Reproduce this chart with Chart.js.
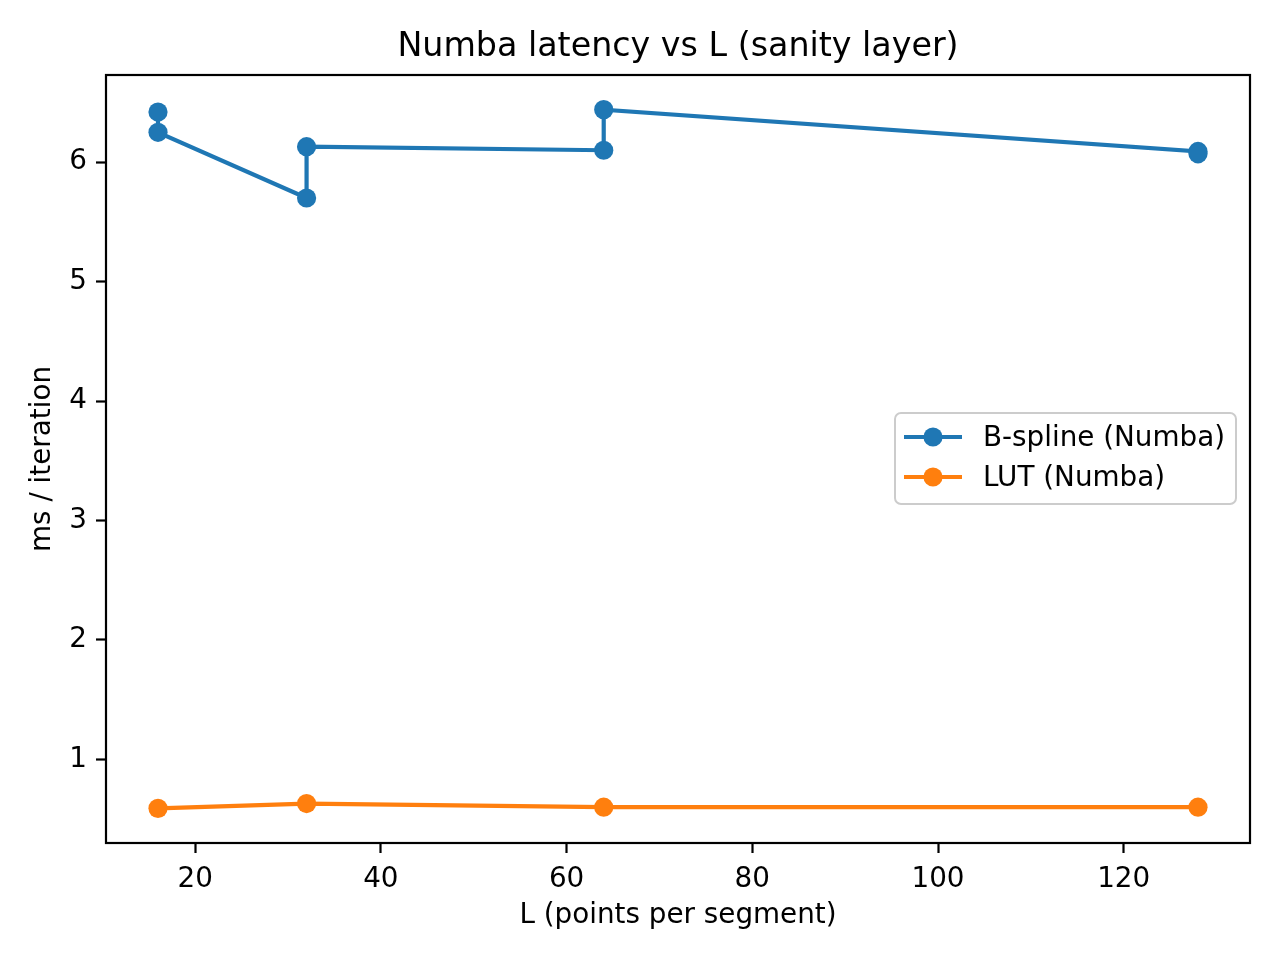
<!DOCTYPE html>
<html>
<head>
<meta charset="utf-8">
<title>Numba latency vs L</title>
<script src="https://cdn.jsdelivr.net/npm/chart.js@4.4.0/dist/chart.umd.min.js"></script>
<style>
  html, body { margin: 0; padding: 0; background: #fff; }
  canvas { display: block; }
</style>
</head>
<body>
<canvas id="chart" width="1280" height="960"></canvas>
<script>
// data
var L_BSPLINE  = [16, 16, 32, 32, 64, 64, 128, 128];
var MS_BSPLINE = [6.42, 6.25, 5.70, 6.13, 6.10, 6.44, 6.09, 6.07];
var L_LUT      = [16, 32, 64, 128];
var MS_LUT     = [0.59, 0.63, 0.60, 0.60];
var X_TICKS    = [20, 40, 60, 80, 100, 120];
var Y_TICKS    = [1, 2, 3, 4, 5, 6];

var TITLE = "Numba latency vs L (sanity layer)";
var BLUE = "#1f77b4", ORANGE = "#ff7f0e";
var FONT = 27.8;
var MARKER = 9.6;

Chart.defaults.font.family = "'DejaVu Sans', sans-serif";
Chart.defaults.color = "#000";

function points(xs, ys) {
  return xs.map(function(x, i) { return { x: x, y: ys[i] }; });
}

// matplotlib-like frame (all four spines) + title centred over the axes
var framePlugin = {
  id: "frame",
  afterDatasetsDraw: function(chart) {
    var a = chart.chartArea, ctx = chart.ctx;
    ctx.save();
    ctx.strokeStyle = "#000";
    ctx.lineWidth = 2.2;
    ctx.strokeRect(a.left, a.top, a.right - a.left, a.bottom - a.top);
    ctx.fillStyle = "#000";
    ctx.font = "33.3px 'DejaVu Sans'";
    ctx.textAlign = "center";
    ctx.textBaseline = "middle";
    ctx.fillText(TITLE, (a.left + a.right) / 2, 47);
    ctx.restore();
  }
};

// legend box inside the axes, right-centre
var legendPlugin = {
  id: "boxLegend",
  afterDraw: function(chart) {
    var ctx = chart.ctx;
    var x0 = 895, y0 = 413, w = 341, h = 91, r = 6;
    ctx.save();
    ctx.beginPath();
    ctx.roundRect(x0, y0, w, h, r);
    ctx.fillStyle = "rgba(255,255,255,0.8)";
    ctx.fill();
    ctx.strokeStyle = "#cccccc";
    ctx.lineWidth = 2;
    ctx.stroke();
    ctx.font = FONT + "px 'DejaVu Sans'";
    ctx.textBaseline = "middle";
    chart.data.datasets.forEach(function(ds, i) {
      var cy = 437 + i * 40;
      ctx.strokeStyle = ds.borderColor;
      ctx.lineWidth = 4.2;
      ctx.beginPath();
      ctx.moveTo(904, cy);
      ctx.lineTo(962, cy);
      ctx.stroke();
      ctx.fillStyle = ds.borderColor;
      ctx.beginPath();
      ctx.arc(933, cy, MARKER, 0, Math.PI * 2);
      ctx.fill();
      ctx.fillStyle = "#000";
      ctx.fillText(ds.label, 983, cy + 2);
    });
    ctx.restore();
  }
};

function axisTicks(list) {
  return function(scale) {
    scale.ticks = list.map(function(v) { return { value: v }; });
  };
}

function lineSet(label, color, xs, ys) {
  return {
    label: label,
    data: points(xs, ys),
    showLine: true,
    borderColor: color,
    backgroundColor: color,
    borderWidth: 4.2,
    pointRadius: MARKER,
    pointHoverRadius: MARKER,
    pointBorderWidth: 0
  };
}

new Chart(document.getElementById("chart"), {
  type: "scatter",
  data: {
    datasets: [
      lineSet("B-spline (Numba)", BLUE, L_BSPLINE, MS_BSPLINE),
      lineSet("LUT (Numba)", ORANGE, L_LUT, MS_LUT)
    ]
  },
  options: {
    responsive: false,
    animation: false,
    devicePixelRatio: 1,
    layout: { padding: { left: 0, right: 30, top: 75, bottom: 0 } },
    plugins: {
      legend: { display: false },
      tooltip: { enabled: false },
      title: { display: false }
    },
    scales: {
      x: {
        type: "linear",
        position: "bottom",
        min: 10.4,
        max: 133.6,
        afterBuildTicks: axisTicks(X_TICKS),
        afterFit: function(s) { s.height = 117; },
        border: { display: false },
        grid: { drawOnChartArea: false, drawTicks: true, tickLength: 10, tickColor: "#000", tickWidth: 2.2 },
        ticks: { color: "#000", font: { size: FONT }, padding: 10, maxRotation: 0 },
        title: {
          display: true, text: "L (points per segment)", color: "#000",
          font: { size: FONT }, padding: { top: 0, bottom: 28 }
        }
      },
      y: {
        type: "linear",
        position: "left",
        min: 0.3,
        max: 6.73,
        afterBuildTicks: axisTicks(Y_TICKS),
        afterFit: function(s) { s.width = 106; },
        border: { display: false },
        grid: { drawOnChartArea: false, drawTicks: true, tickLength: 10, tickColor: "#000", tickWidth: 2.2 },
        ticks: { color: "#000", font: { size: FONT }, padding: 9 },
        title: {
          display: true, text: "ms / iteration", color: "#000",
          font: { size: FONT }, padding: { top: 26, bottom: 0 }
        }
      }
    }
  },
  plugins: [framePlugin, legendPlugin]
});
</script>
</body>
</html>
